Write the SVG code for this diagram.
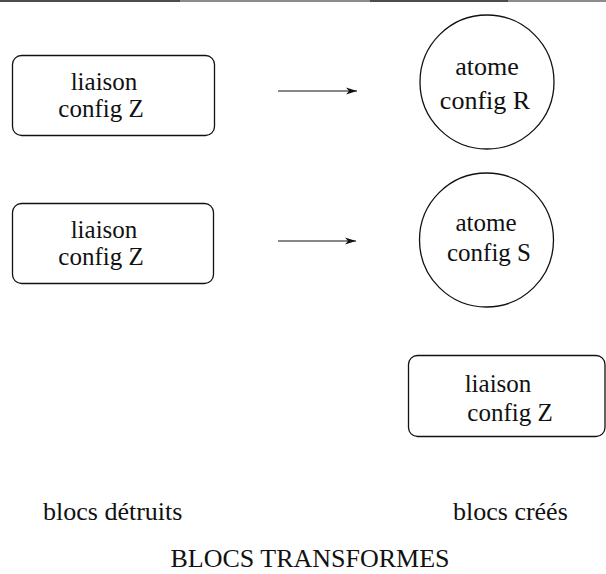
<svg xmlns="http://www.w3.org/2000/svg" width="606" height="574" viewBox="0 0 606 574">
<style>
.box{fill:none;stroke:#111;stroke-width:1.3}
.t{font-family:"Liberation Serif","Times New Roman",serif;font-size:26px;fill:#111}
.s{font-size:25px}
.m{text-anchor:middle}
.edge{stroke:#111;stroke-width:1.2;fill:none}
</style>
<defs>
<marker id="ah" markerWidth="12" markerHeight="8" refX="11" refY="4" orient="auto" markerUnits="userSpaceOnUse">
<path d="M0,0.5 L11,4 L0,7.5 L3,4 z" fill="#111"/>
</marker>
</defs>
<rect width="606" height="574" fill="#fff"/>
<g id="topline">
<line x1="0" y1="1" x2="180" y2="1" stroke="#111" stroke-width="1.5"/>
<line x1="180" y1="1" x2="370" y2="1" stroke="#666" stroke-width="1.5"/>
<line x1="370" y1="1" x2="508" y2="1" stroke="#111" stroke-width="1.5"/>
<line x1="508" y1="1" x2="606" y2="1" stroke="#666" stroke-width="1.5"/>
</g>
<g id="connectors">
<line class="edge" x1="278" y1="91" x2="357" y2="91" marker-end="url(#ah)"/>
<line class="edge" x1="278" y1="241" x2="356" y2="241" stroke="#333" marker-end="url(#ah)"/>
</g>
<g id="liaison1">
<rect class="box" x="12.5" y="55.5" width="202" height="80" rx="9"/>
<text class="t s m" x="104" y="90">liaison</text>
<text class="t s m" x="101" y="117">config Z</text>
</g>
<g id="liaison2">
<rect class="box" x="12.5" y="203.5" width="201" height="80" rx="9"/>
<text class="t s m" x="104" y="238">liaison</text>
<text class="t s m" x="101" y="265">config Z</text>
</g>
<g id="atomeR">
<circle class="box" cx="487" cy="82" r="67"/>
<text class="t m" x="487" y="75">atome</text>
<text class="t m" x="485" y="109">config R</text>
</g>
<g id="atomeS">
<circle class="box" cx="486.5" cy="240" r="67"/>
<text class="t s m" x="486" y="231">atome</text>
<text class="t s m" x="489" y="261">config S</text>
</g>
<g id="liaison3">
<rect class="box" x="408.5" y="355.5" width="196.5" height="81" rx="9"/>
<text class="t s m" x="498" y="392">liaison</text>
<text class="t s m" x="510" y="421">config Z</text>
</g>
<g id="labels">
<text class="t" x="43" y="520">blocs détruits</text>
<text class="t" x="453" y="520">blocs créés</text>
<text class="t m" x="310" y="567">BLOCS TRANSFORMES</text>
</g>
</svg>
